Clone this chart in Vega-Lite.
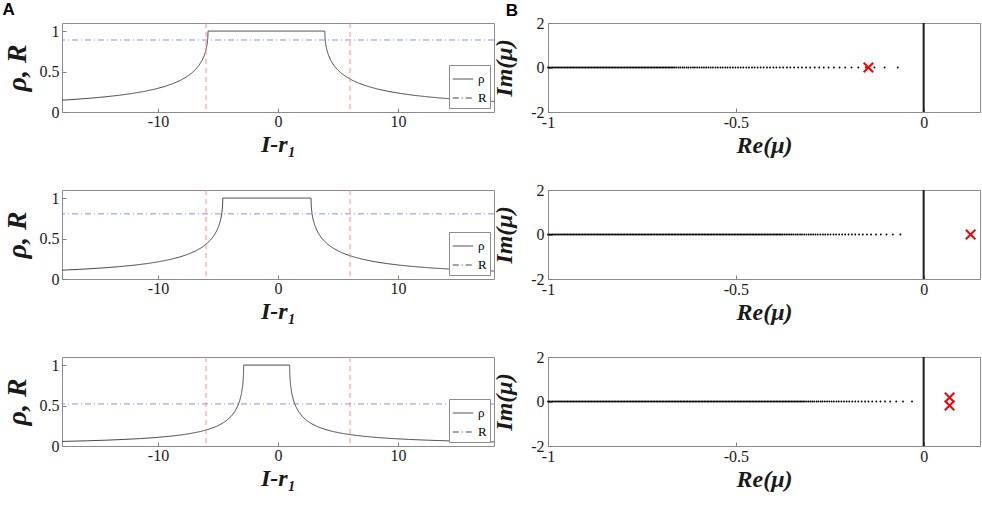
{
  "$schema": "https://vega.github.io/schema/vega-lite/v6.json",
  "background": "white",
  "padding": {"left": 2, "top": 0, "right": 0, "bottom": 0},
  "config": {
    "font": "Liberation Serif",
    "view": {"stroke": "#8c8c8c", "strokeWidth": 1},
    "axis": {
      "labelFont": "Liberation Serif", "labelFontSize": 16, "labelColor": "#1a1a1a",
      "titleFont": "Liberation Serif", "titleFontSize": 24, "titleFontWeight": "bold", "titleFontStyle": "italic", "titleColor": "#1a1a1a",
      "grid": false, "domain": false, "tickSize": -4, "tickColor": "#7f7f7f", "tickWidth": 1,
      "labelPadding": 7, "titlePadding": 3, "labelFlush": false
    },
    "axisX": {"labelPadding": 5},
    "title": {"font": "Liberation Sans", "fontSize": 17, "fontWeight": "bold", "anchor": "start", "frame": "bounds", "color": "black", "offset": -4.5},
    "legend": {
      "orient": "bottom-right", "offset": 4, "fillColor": "white", "strokeColor": "#8c8c8c", "padding": 3,
      "labelFont": "Liberation Serif", "labelFontSize": 13, "labelColor": "black",
      "symbolType": "stroke", "symbolSize": 420, "symbolStrokeWidth": 1, "rowPadding": 1
    }
  },
  "datasets": {
    "rho1": [
      {"x": -18, "r": 0.1458}, {"x": -17.33, "r": 0.1521}, {"x": -15.83, "r": 0.1683}, {"x": -14.43, "r": 0.187}, {"x": -13.23, "r": 0.2068}, {"x": -12.13, "r": 0.2293}, {"x": -11.13, "r": 0.2548}, {"x": -10.23, "r": 0.2837}, {"x": -9.43, "r": 0.3161}, {"x": -8.73, "r": 0.3521}, {"x": -8.13, "r": 0.3915}, {"x": -7.63, "r": 0.4336}, {"x": -7.23, "r": 0.4764}, {"x": -6.88, "r": 0.5243}, {"x": -6.58, "r": 0.5779}, {"x": -6.33, "r": 0.6379}, {"x": -6.15, "r": 0.6972}, {"x": -6.01, "r": 0.7625}, {"x": -5.91, "r": 0.8343}, {"x": -5.85, "r": 0.9133}, {"x": -5.83, "r": 1},
      {"x": 3.9, "r": 1}, {"x": 3.92, "r": 0.9133}, {"x": 3.98, "r": 0.8343}, {"x": 4.08, "r": 0.7625}, {"x": 4.22, "r": 0.6972}, {"x": 4.4, "r": 0.6379}, {"x": 4.65, "r": 0.5779}, {"x": 4.95, "r": 0.5243}, {"x": 5.3, "r": 0.4764}, {"x": 5.7, "r": 0.4336}, {"x": 6.2, "r": 0.3915}, {"x": 6.8, "r": 0.3521}, {"x": 7.5, "r": 0.3161}, {"x": 8.3, "r": 0.2837}, {"x": 9.2, "r": 0.2548}, {"x": 10.2, "r": 0.2293}, {"x": 11.3, "r": 0.2068}, {"x": 12.5, "r": 0.187}, {"x": 13.9, "r": 0.1683}, {"x": 15.4, "r": 0.1521}, {"x": 17.0, "r": 0.138}, {"x": 18, "r": 0.1304}
    ],
    "rho2": [
      {"x": -18, "r": 0.1089}, {"x": -17.7, "r": 0.1109}, {"x": -16.1, "r": 0.1229}, {"x": -14.6, "r": 0.1369}, {"x": -13.2, "r": 0.1532}, {"x": -12.0, "r": 0.1707}, {"x": -10.9, "r": 0.1909}, {"x": -9.9, "r": 0.2141}, {"x": -9.0, "r": 0.2407}, {"x": -8.2, "r": 0.2711}, {"x": -7.5, "r": 0.3056}, {"x": -6.9, "r": 0.3439}, {"x": -6.4, "r": 0.3855}, {"x": -6.0, "r": 0.4286}, {"x": -5.65, "r": 0.4776}, {"x": -5.35, "r": 0.5334}, {"x": -5.1, "r": 0.597}, {"x": -4.92, "r": 0.6608}, {"x": -4.78, "r": 0.7322}, {"x": -4.68, "r": 0.812}, {"x": -4.62, "r": 0.901}, {"x": -4.6, "r": 1},
      {"x": 2.75, "r": 1}, {"x": 2.77, "r": 0.901}, {"x": 2.83, "r": 0.812}, {"x": 2.93, "r": 0.7322}, {"x": 3.07, "r": 0.6608}, {"x": 3.25, "r": 0.597}, {"x": 3.5, "r": 0.5334}, {"x": 3.8, "r": 0.4776}, {"x": 4.15, "r": 0.4286}, {"x": 4.55, "r": 0.3855}, {"x": 5.05, "r": 0.3439}, {"x": 5.65, "r": 0.3056}, {"x": 6.35, "r": 0.2711}, {"x": 7.15, "r": 0.2407}, {"x": 8.05, "r": 0.2141}, {"x": 9.05, "r": 0.1909}, {"x": 10.15, "r": 0.1707}, {"x": 11.35, "r": 0.1532}, {"x": 12.75, "r": 0.1369}, {"x": 14.25, "r": 0.1229}, {"x": 15.85, "r": 0.1109}, {"x": 18, "r": 0.098}
    ],
    "rho3": [
      {"x": -18, "r": 0.0563}, {"x": -15.96, "r": 0.064}, {"x": -14.36, "r": 0.0717}, {"x": -12.86, "r": 0.0809}, {"x": -11.46, "r": 0.0918}, {"x": -10.26, "r": 0.1039}, {"x": -9.16, "r": 0.1182}, {"x": -8.16, "r": 0.1351}, {"x": -7.26, "r": 0.1553}, {"x": -6.46, "r": 0.1792}, {"x": -5.76, "r": 0.2074}, {"x": -5.16, "r": 0.2403}, {"x": -4.66, "r": 0.2776}, {"x": -4.26, "r": 0.3181}, {"x": -3.91, "r": 0.3663}, {"x": -3.61, "r": 0.4238}, {"x": -3.36, "r": 0.4927}, {"x": -3.18, "r": 0.5653}, {"x": -3.04, "r": 0.6503}, {"x": -2.94, "r": 0.7497}, {"x": -2.88, "r": 0.8655}, {"x": -2.86, "r": 1},
      {"x": 0.97, "r": 1}, {"x": 0.99, "r": 0.8655}, {"x": 1.05, "r": 0.7497}, {"x": 1.15, "r": 0.6503}, {"x": 1.29, "r": 0.5653}, {"x": 1.47, "r": 0.4927}, {"x": 1.72, "r": 0.4238}, {"x": 2.02, "r": 0.3663}, {"x": 2.37, "r": 0.3181}, {"x": 2.77, "r": 0.2776}, {"x": 3.27, "r": 0.2403}, {"x": 3.87, "r": 0.2074}, {"x": 4.57, "r": 0.1792}, {"x": 5.37, "r": 0.1553}, {"x": 6.27, "r": 0.1351}, {"x": 7.27, "r": 0.1182}, {"x": 8.37, "r": 0.1039}, {"x": 9.57, "r": 0.0918}, {"x": 10.97, "r": 0.0809}, {"x": 12.47, "r": 0.0717}, {"x": 14.07, "r": 0.064}, {"x": 15.77, "r": 0.0575}, {"x": 18, "r": 0.0507}
    ],
    "eig1": [-0.069,-0.104,-0.131,-0.154,-0.174,-0.192,-0.209,-0.224,-0.239,-0.253,-0.266,-0.278,-0.290,-0.302,-0.313,-0.324,-0.334,-0.345,-0.355,-0.364,-0.374,-0.383,-0.392,-0.400,-0.409,-0.417,-0.426,-0.434,-0.442,-0.450,-0.457,-0.465,-0.472,-0.480,-0.487,-0.494,-0.501,-0.508,-0.515,-0.522,-0.528,-0.535,-0.541,-0.548,-0.554,-0.561,-0.567,-0.573,-0.579,-0.585,-0.591,-0.597,-0.603,-0.609,-0.614,-0.620,-0.626,-0.631,-0.637,-0.642,-0.648,-0.653,-0.659,-0.664],
    "eig2": [-0.062,-0.082,-0.099,-0.114,-0.127,-0.140,-0.151,-0.162,-0.172,-0.182,-0.191,-0.200,-0.209,-0.217,-0.225,-0.233,-0.240,-0.248,-0.255,-0.262,-0.268,-0.275,-0.282,-0.288,-0.294,-0.300,-0.306,-0.312,-0.318,-0.324,-0.329,-0.335,-0.340,-0.346,-0.351,-0.356,-0.361,-0.366,-0.371],
    "eig3": [-0.031,-0.055,-0.073,-0.089,-0.103,-0.115,-0.126,-0.137,-0.147,-0.156,-0.165,-0.174,-0.182,-0.190,-0.198,-0.205,-0.212,-0.219,-0.226,-0.232,-0.239,-0.245,-0.251,-0.257,-0.263,-0.269,-0.274,-0.280,-0.285,-0.291,-0.296,-0.301,-0.306,-0.311,-0.316],
    "tail": [-0.320,-0.324,-0.328,-0.332,-0.336,-0.340,-0.344,-0.348,-0.352,-0.356,-0.360,-0.364,-0.368,-0.372,-0.376,-0.380,-0.384,-0.388,-0.392,-0.396,-0.400,-0.404,-0.408,-0.412,-0.416,-0.420,-0.424,-0.428,-0.432,-0.436,-0.440,-0.444,-0.448,-0.452,-0.456,-0.460,-0.464,-0.468,-0.472,-0.476,-0.480,-0.484,-0.488,-0.492,-0.496,-0.500,-0.504,-0.508,-0.512,-0.516,-0.520,-0.524,-0.528,-0.532,-0.536,-0.540,-0.544,-0.548,-0.552,-0.556,-0.560,-0.564,-0.568,-0.572,-0.576,-0.580,-0.584,-0.588,-0.592,-0.596,-0.600,-0.604,-0.608,-0.612,-0.616,-0.620,-0.624,-0.628,-0.632,-0.636,-0.640,-0.644,-0.648,-0.652,-0.656,-0.660,-0.664,-0.668,-0.672,-0.676,-0.680,-0.684,-0.688,-0.692,-0.696,-0.700,-0.704,-0.708,-0.712,-0.716,-0.720,-0.724,-0.728,-0.732,-0.736,-0.740,-0.744,-0.748,-0.752,-0.756,-0.760,-0.764,-0.768,-0.772,-0.776,-0.780,-0.784,-0.788,-0.792,-0.796,-0.800,-0.804,-0.808,-0.812,-0.816,-0.820,-0.824,-0.828,-0.832,-0.836,-0.840,-0.844,-0.848,-0.852,-0.856,-0.860,-0.864,-0.868,-0.872,-0.876,-0.880,-0.884,-0.888,-0.892,-0.896,-0.900,-0.904,-0.908,-0.912,-0.916,-0.920,-0.924,-0.928,-0.932,-0.936,-0.940,-0.944,-0.948,-0.952,-0.956,-0.960,-0.964,-0.968,-0.972,-0.976,-0.980,-0.984,-0.988,-0.992,-0.996,-1.000],
    "rval1": [{"R": 0.89}],
    "rval2": [{"R": 0.805}],
    "rval3": [{"R": 0.52}],
    "vlines": [{"v": -6}, {"v": 6}],
    "zero": [{"z": 0}],
    "mark1": [{"re": -0.147, "im": 0}],
    "mark2": [{"re": 0.125, "im": 0}],
    "mark3": [{"re": 0.069, "im": 0.18}, {"re": 0.069, "im": -0.18}]
  },
  "columns": 2,
  "bounds": "flush",
  "spacing": {"row": 78, "column": 54},
  "resolve": {
    "scale": {"x": "independent", "y": "independent", "strokeDash": "independent"},
    "legend": {"strokeDash": "independent"}
  },
  "concat": [
    {
      "width": 432, "height": 89,
      "title": {"text": "A", "dx": -0.5, "dy": -8},
      "layer": [
        {"data": {"name": "rho1"}, "mark": {"type": "line", "strokeWidth": 1, "color": "#444444"},
         "encoding": {
           "x": {"field": "x", "type": "quantitative", "scale": {"domain": [-18, 18], "nice": false}, "axis": {"values": [-10, 0, 10], "format": "~g", "labelExpr": "replace(datum.label, '−', '-')", "title": "I-r₁"}},
           "y": {"field": "r", "type": "quantitative", "scale": {"domain": [0, 1.1], "nice": false}, "axis": {"values": [0, 0.5, 1], "format": "~g", "title": "ρ, R", "titleFontSize": 28, "titlePadding": 8}},
           "strokeDash": {"datum": "ρ", "type": "nominal", "scale": {"domain": ["ρ", "R"], "range": [[1, 0], [6, 3, 1, 3]]},
             "legend": {"title": null, "encode": {"symbols": {"update": {"stroke": {"signal": "datum.value === 'R' ? '#8c8cf7' : '#444444'"}}}}}}
         }},
        {"data": {"name": "rval1"}, "mark": {"type": "rule", "strokeWidth": 1, "color": "#8c8cf7"},
         "encoding": {"y": {"field": "R", "type": "quantitative"}, "strokeDash": {"datum": "R", "type": "nominal"}}},
        {"data": {"name": "vlines"}, "mark": {"type": "rule", "color": "#ff8c8c", "strokeDash": [5, 4], "strokeWidth": 1},
         "encoding": {"x": {"field": "v", "type": "quantitative"}}}
      ]
    },
    {
      "width": 432, "height": 89,
      "title": {"text": "B", "dx": 13},
      "layer": [
        {"data": {"name": "eig1"}, "mark": {"type": "circle", "size": 3.5, "color": "black", "opacity": 1},
         "encoding": {
           "x": {"field": "data", "type": "quantitative", "scale": {"domain": [-1, 0.15], "nice": false}, "axis": {"values": [-1, -0.5, 0], "format": "~g", "labelExpr": "replace(datum.label, '−', '-')", "title": "Re(μ)", "labelPadding": 6}},
           "y": {"datum": 0, "type": "quantitative", "scale": {"domain": [-2, 2], "nice": false}, "axis": {"values": [-2, 0, 2], "format": "~g", "labelExpr": "replace(datum.label, '−', '-')", "title": "Im(μ)", "titlePadding": 14, "labelPadding": 8}}
         }},
        {"data": {"name": "tail"}, "transform": [{"filter": "datum.data <= -0.667"}], "mark": {"type": "circle", "size": 3.5, "color": "black", "opacity": 1},
         "encoding": {"x": {"field": "data", "type": "quantitative"}, "y": {"datum": 0, "type": "quantitative"}}},
        {"data": {"name": "zero"}, "mark": {"type": "rule", "strokeWidth": 2, "color": "#1e1e1e"},
         "encoding": {"x": {"field": "z", "type": "quantitative"}}},
        {"data": {"name": "mark1"}, "mark": {"type": "point", "shape": "M-1,-1L1,1M-1,1L1,-1", "filled": false, "color": "#ff0000", "strokeWidth": 2, "size": 90, "opacity": 1},
         "encoding": {"x": {"field": "re", "type": "quantitative"}, "y": {"field": "im", "type": "quantitative"}}}
      ]
    },
    {
      "width": 432, "height": 89,
      "layer": [
        {"data": {"name": "rho2"}, "mark": {"type": "line", "strokeWidth": 1, "color": "#444444"},
         "encoding": {
           "x": {"field": "x", "type": "quantitative", "scale": {"domain": [-18, 18], "nice": false}, "axis": {"values": [-10, 0, 10], "format": "~g", "labelExpr": "replace(datum.label, '−', '-')", "title": "I-r₁"}},
           "y": {"field": "r", "type": "quantitative", "scale": {"domain": [0, 1.1], "nice": false}, "axis": {"values": [0, 0.5, 1], "format": "~g", "title": "ρ, R", "titleFontSize": 28, "titlePadding": 8}},
           "strokeDash": {"datum": "ρ", "type": "nominal", "scale": {"domain": ["ρ", "R"], "range": [[1, 0], [6, 3, 1, 3]]},
             "legend": {"title": null, "encode": {"symbols": {"update": {"stroke": {"signal": "datum.value === 'R' ? '#8c8cf7' : '#444444'"}}}}}}
         }},
        {"data": {"name": "rval2"}, "mark": {"type": "rule", "strokeWidth": 1, "color": "#8c8cf7"},
         "encoding": {"y": {"field": "R", "type": "quantitative"}, "strokeDash": {"datum": "R", "type": "nominal"}}},
        {"data": {"name": "vlines"}, "mark": {"type": "rule", "color": "#ff8c8c", "strokeDash": [5, 4], "strokeWidth": 1},
         "encoding": {"x": {"field": "v", "type": "quantitative"}}}
      ]
    },
    {
      "width": 432, "height": 89,
      "layer": [
        {"data": {"name": "eig2"}, "mark": {"type": "circle", "size": 3.5, "color": "black", "opacity": 1},
         "encoding": {
           "x": {"field": "data", "type": "quantitative", "scale": {"domain": [-1, 0.15], "nice": false}, "axis": {"values": [-1, -0.5, 0], "format": "~g", "labelExpr": "replace(datum.label, '−', '-')", "title": "Re(μ)", "labelPadding": 6}},
           "y": {"datum": 0, "type": "quantitative", "scale": {"domain": [-2, 2], "nice": false}, "axis": {"values": [-2, 0, 2], "format": "~g", "labelExpr": "replace(datum.label, '−', '-')", "title": "Im(μ)", "titlePadding": 14, "labelPadding": 8}}
         }},
        {"data": {"name": "tail"}, "transform": [{"filter": "datum.data <= -0.375"}], "mark": {"type": "circle", "size": 3.5, "color": "black", "opacity": 1},
         "encoding": {"x": {"field": "data", "type": "quantitative"}, "y": {"datum": 0, "type": "quantitative"}}},
        {"data": {"name": "zero"}, "mark": {"type": "rule", "strokeWidth": 2, "color": "#1e1e1e"},
         "encoding": {"x": {"field": "z", "type": "quantitative"}}},
        {"data": {"name": "mark2"}, "mark": {"type": "point", "shape": "M-1,-1L1,1M-1,1L1,-1", "filled": false, "color": "#ff0000", "strokeWidth": 2, "size": 90, "opacity": 1},
         "encoding": {"x": {"field": "re", "type": "quantitative"}, "y": {"field": "im", "type": "quantitative"}}}
      ]
    },
    {
      "width": 432, "height": 89,
      "layer": [
        {"data": {"name": "rho3"}, "mark": {"type": "line", "strokeWidth": 1, "color": "#444444"},
         "encoding": {
           "x": {"field": "x", "type": "quantitative", "scale": {"domain": [-18, 18], "nice": false}, "axis": {"values": [-10, 0, 10], "format": "~g", "labelExpr": "replace(datum.label, '−', '-')", "title": "I-r₁"}},
           "y": {"field": "r", "type": "quantitative", "scale": {"domain": [0, 1.1], "nice": false}, "axis": {"values": [0, 0.5, 1], "format": "~g", "title": "ρ, R", "titleFontSize": 28, "titlePadding": 8}},
           "strokeDash": {"datum": "ρ", "type": "nominal", "scale": {"domain": ["ρ", "R"], "range": [[1, 0], [6, 3, 1, 3]]},
             "legend": {"title": null, "encode": {"symbols": {"update": {"stroke": {"signal": "datum.value === 'R' ? '#8c8cf7' : '#444444'"}}}}}}
         }},
        {"data": {"name": "rval3"}, "mark": {"type": "rule", "strokeWidth": 1, "color": "#8c8cf7"},
         "encoding": {"y": {"field": "R", "type": "quantitative"}, "strokeDash": {"datum": "R", "type": "nominal"}}},
        {"data": {"name": "vlines"}, "mark": {"type": "rule", "color": "#ff8c8c", "strokeDash": [5, 4], "strokeWidth": 1},
         "encoding": {"x": {"field": "v", "type": "quantitative"}}}
      ]
    },
    {
      "width": 432, "height": 89,
      "layer": [
        {"data": {"name": "eig3"}, "mark": {"type": "circle", "size": 3.5, "color": "black", "opacity": 1},
         "encoding": {
           "x": {"field": "data", "type": "quantitative", "scale": {"domain": [-1, 0.15], "nice": false}, "axis": {"values": [-1, -0.5, 0], "format": "~g", "labelExpr": "replace(datum.label, '−', '-')", "title": "Re(μ)", "labelPadding": 6}},
           "y": {"datum": 0, "type": "quantitative", "scale": {"domain": [-2, 2], "nice": false}, "axis": {"values": [-2, 0, 2], "format": "~g", "labelExpr": "replace(datum.label, '−', '-')", "title": "Im(μ)", "titlePadding": 14, "labelPadding": 8}}
         }},
        {"data": {"name": "tail"}, "mark": {"type": "circle", "size": 3.5, "color": "black", "opacity": 1},
         "encoding": {"x": {"field": "data", "type": "quantitative"}, "y": {"datum": 0, "type": "quantitative"}}},
        {"data": {"name": "zero"}, "mark": {"type": "rule", "strokeWidth": 2, "color": "#1e1e1e"},
         "encoding": {"x": {"field": "z", "type": "quantitative"}}},
        {"data": {"name": "mark3"}, "mark": {"type": "point", "shape": "M-1,-1L1,1M-1,1L1,-1", "filled": false, "color": "#ff0000", "strokeWidth": 2, "size": 90, "opacity": 1},
         "encoding": {"x": {"field": "re", "type": "quantitative"}, "y": {"field": "im", "type": "quantitative"}}}
      ]
    }
  ]
}
